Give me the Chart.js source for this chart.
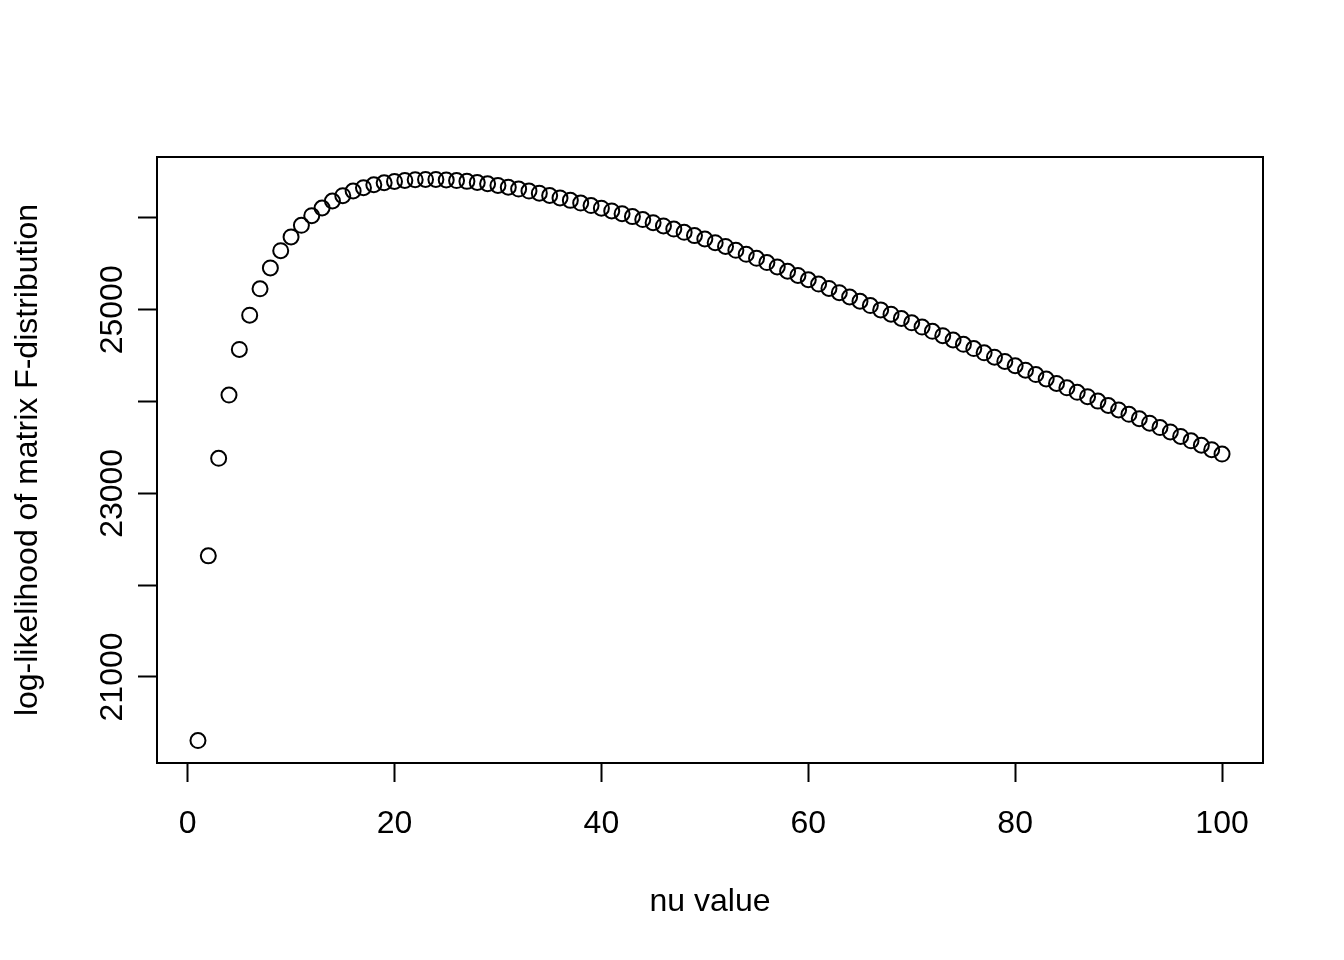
<!DOCTYPE html>
<html>
<head>
<meta charset="utf-8">
<title>log-likelihood vs nu</title>
<script src="https://cdn.jsdelivr.net/npm/chart.js@4/dist/chart.umd.min.js"></script>
<style>
    html, body { margin: 0; padding: 0; background: #fff; }
    #wrap { width: 1344px; height: 960px; position: relative; }
</style>
</head>
<body>
<div id="wrap"><canvas id="llChart"></canvas></div>
<script>
const nuValues = [
    1, 2, 3, 4, 5, 6, 7, 8, 9, 10,
    11, 12, 13, 14, 15, 16, 17, 18, 19, 20,
    21, 22, 23, 24, 25, 26, 27, 28, 29, 30,
    31, 32, 33, 34, 35, 36, 37, 38, 39, 40,
    41, 42, 43, 44, 45, 46, 47, 48, 49, 50,
    51, 52, 53, 54, 55, 56, 57, 58, 59, 60,
    61, 62, 63, 64, 65, 66, 67, 68, 69, 70,
    71, 72, 73, 74, 75, 76, 77, 78, 79, 80,
    81, 82, 83, 84, 85, 86, 87, 88, 89, 90,
    91, 92, 93, 94, 95, 96, 97, 98, 99, 100
];

const logLik = [
    20307, 22319, 23382, 24071, 24568, 24941, 25228, 25456, 25644, 25794,
    25920, 26025, 26109, 26185, 26243, 26294, 26330, 26362, 26384, 26398,
    26409, 26417, 26420, 26420, 26415, 26408, 26399, 26387, 26373, 26355,
    26335, 26315, 26293, 26270, 26245, 26219, 26192, 26163, 26135, 26107,
    26077, 26047, 26015, 25983, 25949, 25914, 25879, 25844, 25808, 25771,
    25731, 25690, 25648, 25604, 25561, 25514, 25467, 25420, 25374, 25327,
    25280, 25233, 25186, 25139, 25093, 25046, 24999, 24952, 24905, 24858,
    24812, 24765, 24718, 24671, 24624, 24577, 24531, 24484, 24437, 24390,
    24342, 24294, 24246, 24198, 24150, 24101, 24053, 24005, 23957, 23909,
    23861, 23813, 23765, 23717, 23669, 23620, 23572, 23524, 23476, 23428
];

const xTicks = [0, 20, 40, 60, 80, 100];
const yTicks = [21000, 22000, 23000, 24000, 25000, 26000];
const yLabeled = [21000, 23000, 25000];

const FONT = "'Liberation Sans', Arial, Helvetica, sans-serif";

// R pads the data range by 4% on each side
function padRange(vals) {
    const lo = Math.min(...vals), hi = Math.max(...vals);
    const d = (hi - lo) * 0.04;
    return [lo - d, hi + d];
}
const [xMin, xMax] = padRange(nuValues);
const [yMin, yMax] = padRange(logLik);

// box + rotated y labels, R style
const rAxes = {
    id: "rAxes",
    afterDraw(chart) {
        const { ctx, chartArea: a } = chart;
        const y = chart.scales.y;
        ctx.save();
        ctx.strokeStyle = "#000";
        ctx.lineWidth = 2;
        ctx.strokeRect(a.left, a.top, a.right - a.left, a.bottom - a.top);

        ctx.fillStyle = "#000";
        ctx.font = `32px ${FONT}`;
        ctx.textAlign = "center";
        ctx.textBaseline = "alphabetic";
        yLabeled.forEach(v => {
            ctx.save();
            ctx.translate(122, y.getPixelForValue(v));
            ctx.rotate(-Math.PI / 2);
            ctx.fillText(String(v), 0, 0);
            ctx.restore();
        });
        ctx.restore();
    }
};

new Chart(document.getElementById("llChart"), {
    type: "scatter",
    data: {
        datasets: [{
            label: "log-likelihood",
            data: nuValues.map((nu, i) => ({ x: nu, y: logLik[i] })),
            pointStyle: "circle",
            pointRadius: 7.5,
            pointHoverRadius: 7.5,
            pointBorderWidth: 2,
            pointBorderColor: "#000",
            pointBackgroundColor: "rgba(0,0,0,0)",
            showLine: false
        }]
    },
    options: {
        responsive: true,
        maintainAspectRatio: false,
        animation: false,
        events: [],
        layout: { padding: { top: 157, right: 81, left: 0, bottom: 0 } },
        plugins: {
            legend: { display: false },
            tooltip: { enabled: false }
        },
        scales: {
            x: {
                type: "linear",
                min: xMin,
                max: xMax,
                afterBuildTicks: s => { s.ticks = xTicks.map(v => ({ value: v })); },
                afterFit: s => { s.height = 197; },
                border: { display: false },
                grid: {
                    drawOnChartArea: false,
                    drawTicks: true,
                    tickLength: 19,
                    tickWidth: 2,
                    tickColor: "#000"
                },
                ticks: {
                    autoSkip: false,
                    maxRotation: 0,
                    padding: 23,
                    color: "#000",
                    font: { family: FONT, size: 32 },
                    callback: v => String(v)
                },
                title: {
                    display: true,
                    text: "nu value",
                    color: "#000",
                    font: { family: FONT, size: 32 },
                    padding: { top: 0, bottom: 39 }
                }
            },
            y: {
                type: "linear",
                min: yMin,
                max: yMax,
                afterBuildTicks: s => { s.ticks = yTicks.map(v => ({ value: v })); },
                afterFit: s => { s.width = 157; },
                border: { display: false },
                grid: {
                    drawOnChartArea: false,
                    drawTicks: true,
                    tickLength: 19,
                    tickWidth: 2,
                    tickColor: "#000"
                },
                ticks: {
                    color: "#000",
                    font: { family: FONT, size: 32 },
                    callback: () => ""
                },
                title: {
                    display: true,
                    text: "log-likelihood of matrix F-distribution",
                    color: "#000",
                    font: { family: FONT, size: 32 },
                    padding: { top: 9, bottom: 0 }
                }
            }
        }
    },
    plugins: [rAxes]
});
</script>
</body>
</html>
